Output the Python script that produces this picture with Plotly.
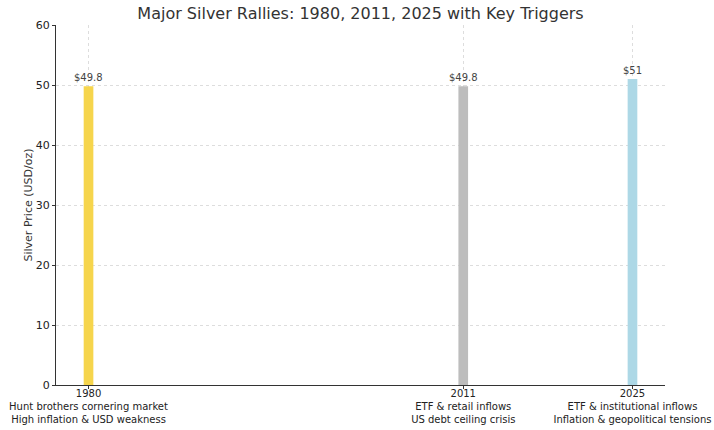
import plotly.graph_objects as go

years = [1980, 2011, 2025]
prices = [49.8, 49.8, 51]
price_labels = ["$49.8", "$49.8", "$51"]
colors = ["#f6d54c", "#bdbdbd", "#add8e6"]
tick_labels = [
    "1980<br>Hunt brothers cornering market<br>High inflation & USD weakness",
    "2011<br>ETF & retail inflows<br>US debt ceiling crisis",
    "2025<br>ETF & institutional inflows<br>Inflation & geopolitical tensions",
]

font = "DejaVu Sans"
W, H = 714, 430

fig = go.Figure()
fig.add_trace(go.Bar(
    x=years, y=prices, width=0.8,
    marker=dict(color=colors, line=dict(width=0)),
    hoverinfo="x+y",
))

for yr, p, lab in zip(years, prices, price_labels):
    fig.add_annotation(x=yr, y=p, text=lab, showarrow=False, yanchor="bottom",
                       yshift=1, font=dict(family=font, size=10, color="#444"))

fig.update_layout(
    width=W, height=H,
    margin=dict(l=56, r=49, t=25, b=45),
    paper_bgcolor="white", plot_bgcolor="white",
    showlegend=False,
    title=dict(text="Major Silver Rallies: 1980, 2011, 2025 with Key Triggers",
               x=360.5 / W, xanchor="center",
               y=1 - 13 / H, yanchor="middle",
               font=dict(family=font, size=16, color="#333")),
    font=dict(family=font, size=11, color="#222"),
)

fig.update_xaxes(
    range=[1977.31, 2027.69], automargin=False,
    tickmode="array", tickvals=years, ticktext=tick_labels,
    tickfont=dict(family=font, size=10, color="#222"),
    ticks="outside", ticklen=3, tickcolor="#333",
    ticklabelstandoff=-4,
    showline=True, linecolor="#333", linewidth=1,
    showgrid=True, gridcolor="#ddd", griddash="dot", gridwidth=1,
    zeroline=False,
)
fig.update_yaxes(
    range=[0, 60], dtick=10, automargin=False,
    title=dict(text="Silver Price (USD/oz)", font=dict(family=font, size=11, color="#333"), standoff=0),
    tickfont=dict(family=font, size=11, color="#222"),
    ticks="outside", ticklen=3, tickcolor="#333",
    showline=True, linecolor="#333", linewidth=1,
    showgrid=True, gridcolor="#ddd", griddash="dot", gridwidth=1,
    zeroline=False,
)

fig.write_html(
    "out.html",
    config={"displayModeBar": False},
    post_script="document.body.style.margin='0';document.body.style.overflow='hidden';",
)
